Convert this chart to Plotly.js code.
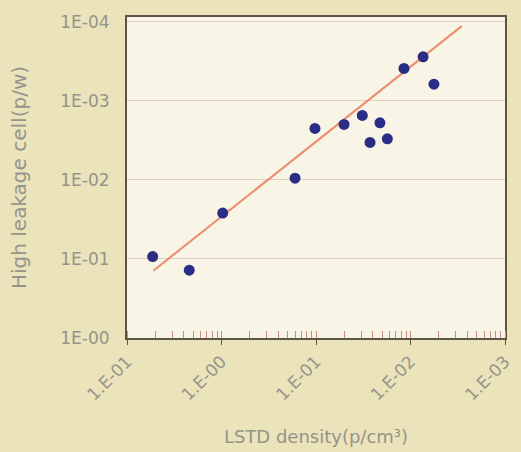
<!DOCTYPE html>
<html>
<head>
<meta charset="utf-8">
<script src="https://cdn.plot.ly/plotly-3.0.1.min.js"></script>
<style>html,body{margin:0;padding:0;background:#ebe3ba;}#chart{width:521px;height:452px;}</style>
</head>
<body>
<div id="chart"></div>
<script>
// Measured points (LSTD density vs high leakage cells)
const densityX = [0.187, 0.456, 1.03, 6.0, 9.75, 19.8, 30.9, 37.3, 47.5, 56.9, 85.3, 136, 177];
const leakageY = [10.7, 7.2, 38, 105, 448, 503, 654, 298, 527, 331, 2570, 3600, 1625];
// Fitted line end points
const fitX = [0.19, 348];
const fitY = [7.1, 8800];
// Tick labels as printed
const xTickVals = [0.1, 1, 10, 100, 1000];
const xTickText = ["1.E-01", "1.E-00", "1.E-01", "1.E-02", "1.E-03"];
const yTickVals = [1, 10, 100, 1000, 10000];
const yTickText = ["1E-00", "1E-01", "1E-02", "1E-03", "1E-04"];

const font = "DejaVu Sans, Arial, sans-serif";
const txt = "#95948a";

const traces = [
  {x: fitX, y: fitY, type: "scatter", mode: "lines",
   line: {color: "#ec8c6c", width: 2}, hoverinfo: "skip", showlegend: false},
  {x: densityX, y: leakageY, type: "scatter", mode: "markers",
   marker: {color: "#2b2c86", size: 11}, showlegend: false}
];

const layout = {
  width: 521, height: 452,
  margin: {l: 127, r: 16, t: 17, b: 114},
  paper_bgcolor: "#ebe3ba",
  plot_bgcolor: "#f8f5e6",
  font: {family: font, color: txt, size: 17},
  xaxis: {
    type: "log", range: [-1, 3],
    tickmode: "array", tickvals: xTickVals, ticktext: xTickText,
    tickangle: -45, tickfont: {size: 17, color: txt},
    ticks: "outside", ticklen: 5, tickcolor: "#5b5548", tickwidth: 1,
    showgrid: false, zeroline: false,
    showline: true, linecolor: "#5b5548", linewidth: 2, mirror: true,
    minor: {ticks: "inside", ticklen: 7, tickcolor: "#c98a86", tickwidth: 1, dtick: "D1", showgrid: false},
    title: {text: "LSTD density(p/cm³)", font: {size: 18, color: txt}, standoff: 27}
  },
  yaxis: {
    type: "log", range: [0, 4.06],
    tickmode: "array", tickvals: yTickVals, ticktext: yTickText,
    tickfont: {size: 17, color: txt},
    ticks: "", ticklabelstandoff: 12,
    showgrid: true, gridcolor: "rgba(205,160,155,0.45)", gridwidth: 1,
    zeroline: false,
    showline: true, linecolor: "#5b5548", linewidth: 2, mirror: true,
    title: {text: "High leakage cell(p/w)", font: {size: 20, color: txt}, standoff: 28}
  },
  showlegend: false
};

Plotly.newPlot("chart", traces, layout, {displayModeBar: false, staticPlot: true});
</script>
</body>
</html>
